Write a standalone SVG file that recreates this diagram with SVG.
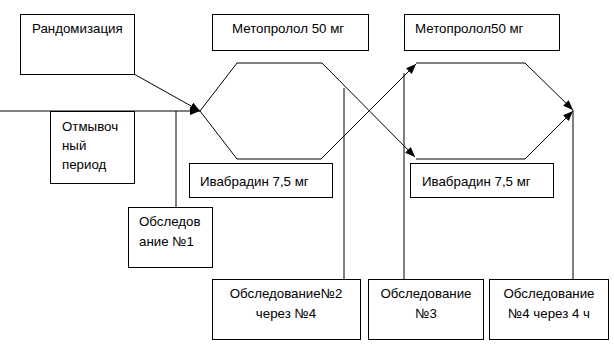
<svg xmlns="http://www.w3.org/2000/svg" width="614" height="348" viewBox="0 0 614 348">
<defs>
<marker id="ah" viewBox="0 0 10 8" refX="10" refY="4" markerWidth="10" markerHeight="8" markerUnits="userSpaceOnUse" orient="auto">
<path d="M0,0 L10,4 L0,8 Z" fill="#000"/>
</marker>
</defs>
<style>
.box{fill:#fff;stroke:#000;stroke-width:1}
.ln{fill:none;stroke:#000;stroke-width:1}
text{font-family:"Liberation Sans",Arial,sans-serif;font-size:13.3px;fill:#000}
.c{text-anchor:middle}
</style>
<rect width="614" height="348" fill="#fff"/>
<g id="connectors">
<line class="ln" x1="0" y1="111" x2="200" y2="111" marker-end="url(#ah)"/>
<line class="ln" x1="134" y1="74" x2="200" y2="111" marker-end="url(#ah)"/>
<polyline class="ln" points="200,111 237,63 322,63 415,157" marker-end="url(#ah)"/>
<polyline class="ln" points="200,111 237,159 321,159 416,64" marker-end="url(#ah)"/>
<polyline class="ln" points="416,63 525,63 573,110" marker-end="url(#ah)"/>
<polyline class="ln" points="416,159 525,159 573,111" marker-end="url(#ah)"/>
<line class="ln" x1="573" y1="110" x2="573" y2="279"/>
<line class="ln" x1="176" y1="111" x2="176" y2="207"/>
<line class="ln" x1="344" y1="88" x2="344" y2="279"/>
<line class="ln" x1="404" y1="73" x2="404" y2="279"/>
</g>
<g id="randomization">
<rect class="box" x="20.5" y="14.5" width="114" height="60"/>
<text x="32" y="33">Рандомизация</text>
</g>
<g id="metoprolol1">
<rect class="box" x="212.5" y="14.5" width="156" height="36"/>
<text x="232" y="33">Метопролол 50 мг</text>
</g>
<g id="metoprolol2">
<rect class="box" x="404.5" y="14.5" width="155" height="36"/>
<text x="415" y="33">Метопролол50 мг</text>
</g>
<g id="washout">
<rect class="box" x="50.5" y="111.5" width="84" height="72"/>
<text x="62" y="131">Отмывоч</text>
<text x="62" y="150">ный</text>
<text x="62" y="169">период</text>
</g>
<g id="ivabradin1">
<rect class="box" x="189.5" y="163.5" width="143" height="34"/>
<text x="200" y="186">Ивабрадин 7,5 мг</text>
</g>
<g id="ivabradin2">
<rect class="box" x="410.5" y="163.5" width="143" height="34"/>
<text x="422" y="186">Ивабрадин 7,5 мг</text>
</g>
<g id="exam1">
<rect class="box" x="128.5" y="207.5" width="84" height="60"/>
<text x="139" y="226">Обследов</text>
<text x="139" y="246">ание №1</text>
</g>
<g id="exam2">
<rect class="box" x="212.5" y="279.5" width="148" height="60"/>
<text class="c" x="286" y="298">Обследование№2</text>
<text class="c" x="286" y="318">через №4</text>
</g>
<g id="exam3">
<rect class="box" x="368.5" y="279.5" width="115" height="60"/>
<text class="c" x="426" y="298">Обследование</text>
<text class="c" x="426" y="318">№3</text>
</g>
<g id="exam4">
<rect class="box" x="489.5" y="279.5" width="119" height="60"/>
<text class="c" x="549" y="298">Обследование</text>
<text class="c" x="549" y="318">№4 через 4 ч</text>
</g>
</svg>
